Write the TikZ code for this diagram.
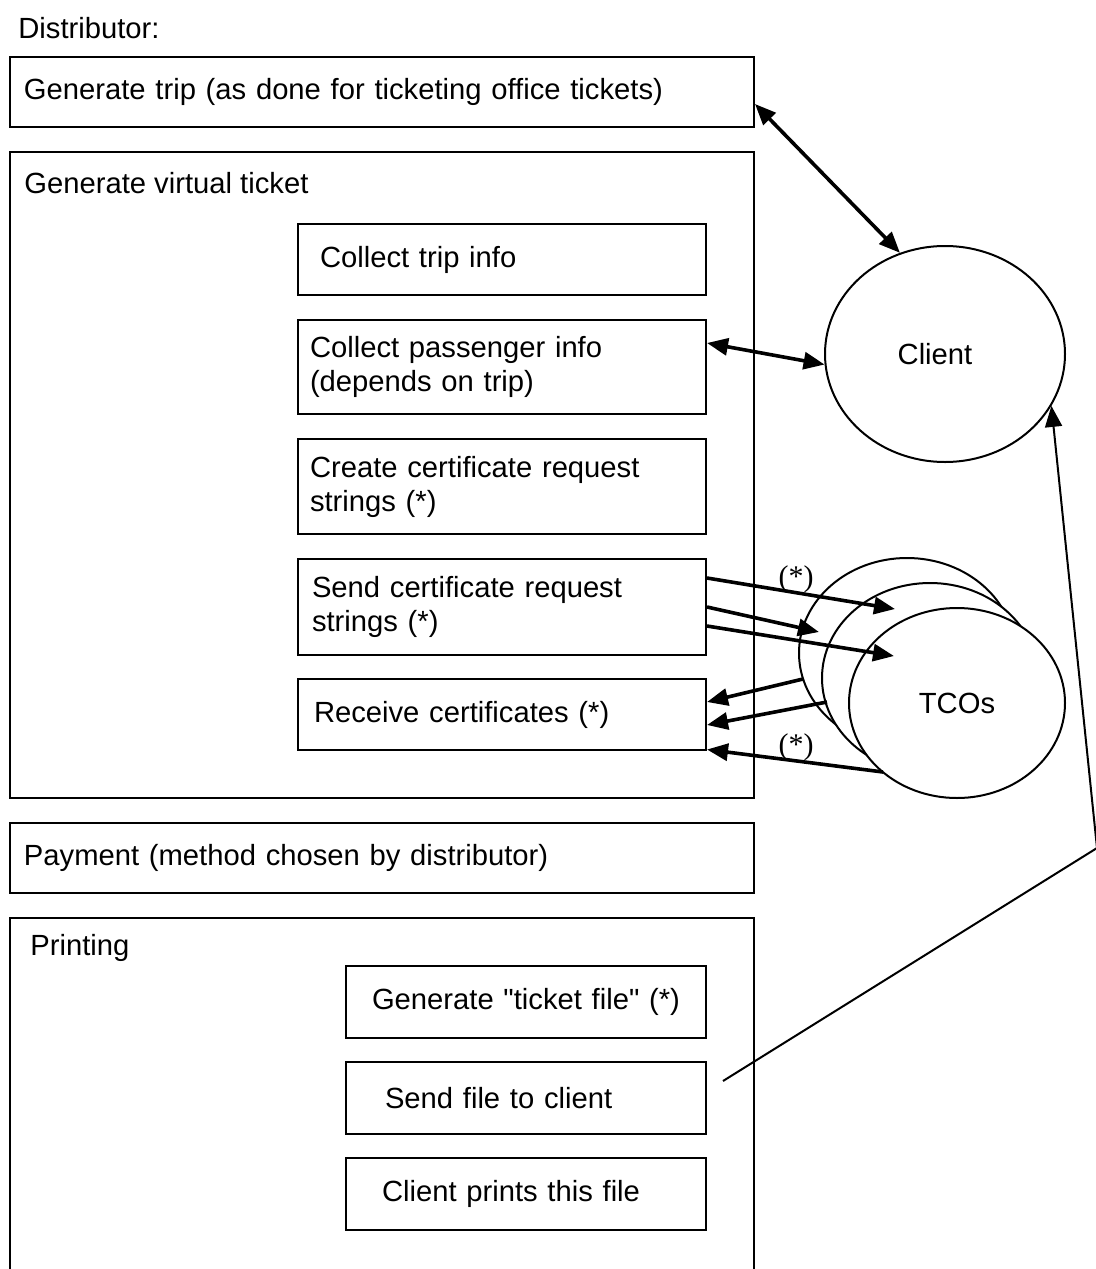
\documentclass[tikz,border=0pt]{standalone}
\usepackage{fontspec}
\setmainfont{Liberation Sans}
\newfontfamily\starfont{Liberation Serif}
\usetikzlibrary{arrows.meta,shapes.geometric}

\begin{document}
\begin{tikzpicture}[x=0.5pt,y=-0.5pt,
  every node/.style={font=\fontsize{14.6pt}{17pt}\selectfont},
  stage/.style 2 args={draw,line width=1pt,align=left,text width=#1,inner xsep=#2,inner ysep=0pt},
  bubble/.style={draw,ellipse,line width=1pt,fill=white,inner sep=0pt},
  star/.style={font=\fontsize{15pt}{17pt}\starfont},
  link/.style={line width=1.8pt,-{Triangle[length=10.5pt,width=8.5pt]}},
  both/.style={line width=1.8pt,{Triangle[length=10.5pt,width=8.5pt]}-{Triangle[length=10.5pt,width=8.5pt]}}]
\useasboundingbox (0,0) rectangle (1096,1269);
\node[anchor=west,inner sep=0pt] (distributor) at (18,28) {Distributor:};
% distributor steps
\node[stage={358pt}{7pt},minimum height=35pt] (trip) at (382,92) {Generate trip (as done for ticketing office tickets)};
\node[draw,line width=1pt,minimum width=372pt,minimum height=323pt] (virtual) at (382,475) {};
\node[anchor=west,inner sep=0pt] (virtualtitle) at (24,183) {Generate virtual ticket};
\node[stage={182pt}{11pt},minimum height=35.5pt] (triptinfo) at (502,259.5) {Collect trip info};
\node[stage={192pt}{6pt},minimum height=47pt] (pass) at (502,367) {Collect passenger info\\(depends on trip)};
\node[stage={192pt}{6pt},minimum height=47.5pt] (create) at (502,486.5) {Create certificate request\\strings (*)};
\node[stage={190pt}{7pt},minimum height=48pt] (send) at (502,607) {Send certificate request\\strings (*)};
\node[stage={188pt}{8pt},minimum height=35.5pt] (receive) at (502,714.5) {Receive certificates (*)};
\node[stage={358pt}{7pt},minimum height=35pt] (payment) at (382,858) {Payment (method chosen by distributor)};
\node[draw,line width=1pt,minimum width=372pt,minimum height=191pt] (printing) at (382,1109) {};
\node[anchor=west,inner sep=0pt] (printingtitle) at (30,948) {Printing};
\node[stage={154pt}{13pt},minimum height=36pt] (gentix) at (526,1002) {Generate \textquotedbl ticket file\textquotedbl{} (*)};
\node[stage={141pt}{19.5pt},minimum height=36pt] (sendfile) at (526,1098) {Send file to client};
\node[stage={144pt}{18pt},minimum height=36pt] (prints) at (526,1194) {Client prints this file};
% client and TCOs
\node[bubble,minimum width=120pt,minimum height=108pt] (client) at (945,354) {\hspace*{-10pt}Client};
\node[bubble,minimum width=108pt,minimum height=95pt] (tco1) at (907,653) {};
\node[bubble,minimum width=108pt,minimum height=95pt] (tco2) at (930,678) {};
\node[bubble,minimum width=108pt,minimum height=95pt] (tco3) at (957,703) {TCOs};
% exchanges
\draw[both] ([yshift=-6pt]trip.east) -- (client.114);
\draw[both] ([yshift=12pt]pass.east) -- (client.185);
\draw[link] ([yshift=14.5pt]send.east) -- ([shift={(-12,-44)}]tco1.center);
\draw[link] (send.east) -- ([shift={(-88,-21)}]tco1.center);
\draw[link] ([yshift=-9.5pt]send.east) -- ([shift={(-13,3)}]tco1.center);
\draw[link] ([shift={(-104,26)}]tco1.center) -- ([yshift=6.25pt]receive.east);
\draw[link] ([shift={(-103,24)}]tco2.center) -- ([yshift=-5.25pt]receive.east);
\draw[link] ([shift={(-74,69)}]tco3.center) -- ([yshift=-17.5pt]receive.east);
\node[star] (star1) at (796,579) {(*)};
\node[star] (star2) at (796,747) {(*)};
\coordinate (bend) at (1097,848);
\draw[line width=1pt,-{Triangle[length=10.5pt,width=8.5pt]}] ([shift={(16,-17)}]sendfile.east) -- (bend) -- (client.-26);
\end{tikzpicture}
\end{document}
